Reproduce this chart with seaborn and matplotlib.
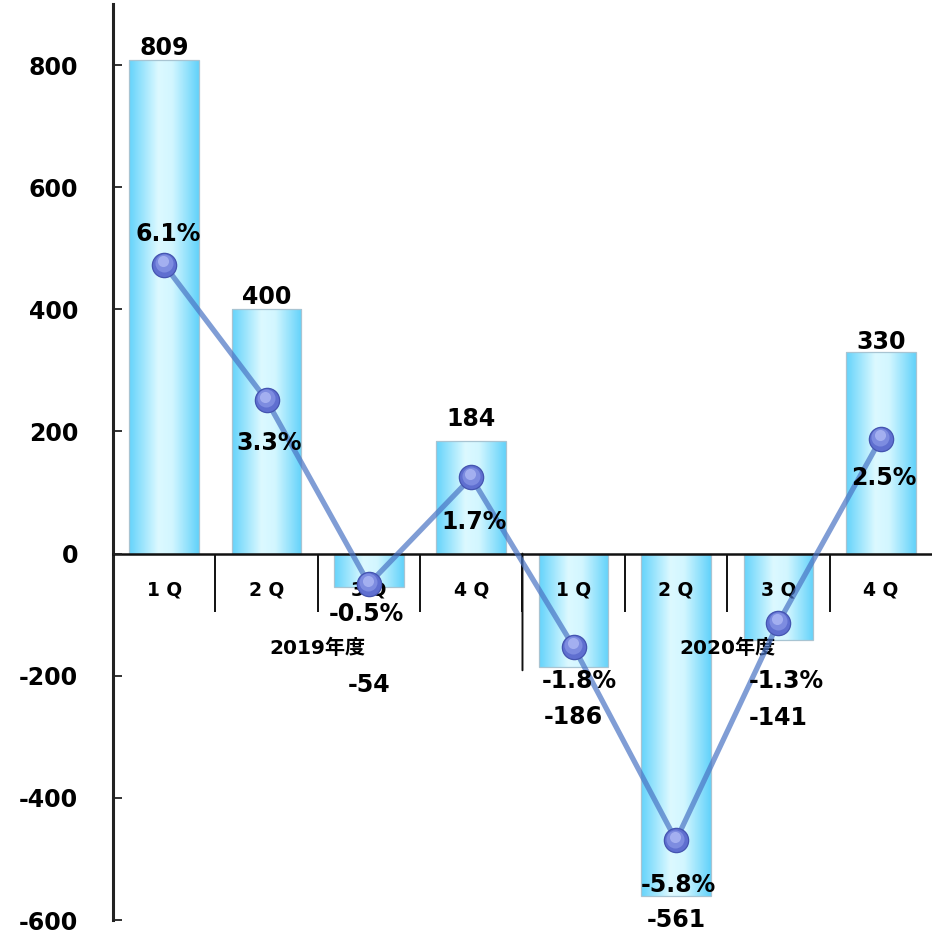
import numpy as np
import pandas as pd
import matplotlib
matplotlib.use("Agg")
import matplotlib.pyplot as plt
import seaborn as sns
from matplotlib.colors import LinearSegmentedColormap
from matplotlib.transforms import offset_copy

# Quarterly amounts and year-on-year growth
periods = ["2019-1Q", "2019-2Q", "2019-3Q", "2019-4Q",
           "2020-1Q", "2020-2Q", "2020-3Q", "2020-4Q"]
quarter_labels = ["1 Q", "2 Q", "3 Q", "4 Q", "1 Q", "2 Q", "3 Q", "4 Q"]
fiscal_years = ["2019年度", "2020年度"]
amounts = [809, 400, -54, 184, -186, -561, -141, 330]
growth_pct = [6.1, 3.3, -0.5, 1.7, -1.8, -5.8, -1.3, 2.5]
y_ticks = [-600, -400, -200, 0, 200, 400, 600, 800]

# label placement (points) relative to bar end / marker
amount_offsets = [(0, 8), (0, 9), (0, -71), (0, 16), (0, -36), (0, -17), (0, -56), (0, 7)]
pct_offsets = [(3, 22), (2, -31), (-2, -22), (2, -32), (4, -25), (2, -32), (6, -42), (2, -28)]

sns.set_theme(style="white")
plt.rcParams["font.family"] = ["DejaVu Sans", "Noto Sans CJK JP"]
plt.rcParams["font.weight"] = "bold"
plt.rcParams["text.color"] = "black"
plt.rcParams["xtick.color"] = "black"
plt.rcParams["ytick.color"] = "black"

fig = plt.figure(figsize=(9.32, 9.33), dpi=100)
ax = fig.add_axes([0.1212, 0.0139, 0.8788, 0.9818])

df = pd.DataFrame({"period": periods, "amount": amounts, "pct": growth_pct})
sns.barplot(data=df, x="period", y="amount", order=periods, width=0.68,
            color="#8fe3fc", edgecolor="#a8c4d2", linewidth=0.9,
            errorbar=None, ax=ax, zorder=2)

# horizontal light-cyan gradient inside each bar
cmap = LinearSegmentedColormap.from_list(
    "barfill", [(0.0, "#64d3fb"), (0.42, "#dcf9ff"), (0.62, "#d2f6ff"), (1.0, "#62d2fa")])
grad = np.linspace(0, 1, 256).reshape(1, -1)
for bar in list(ax.patches):
    x0, y0 = bar.get_x(), bar.get_y()
    w, h = bar.get_width(), bar.get_height()
    img = ax.imshow(grad, cmap=cmap, aspect="auto", interpolation="bicubic",
                    extent=(x0, x0 + w, min(y0, y0 + h), max(y0, y0 + h)), zorder=2.1)
    img.set_clip_path(bar)
    bar.set_facecolor("none")
    bar.set_zorder(2.2)

ax.set_xlim(-0.5, len(periods) - 0.5)
ax.set_ylim(-600, 900)
ax.set_xlabel("")
ax.set_ylabel("")
ax.set_axisbelow(False)

# axes styling
for side in ("top", "right"):
    ax.spines[side].set_visible(False)
ax.spines["bottom"].set_position(("data", 0))
ax.spines["bottom"].set_linewidth(1.8)
ax.spines["bottom"].set_color("#111111")
ax.spines["left"].set_linewidth(2.2)
ax.spines["left"].set_color("#222222")

ax.set_yticks(y_ticks)
ax.set_yticklabels([str(v) for v in y_ticks], fontsize=17, fontweight="bold")
ax.tick_params(axis="y", which="major", direction="in", length=6.5, width=1.3,
               color="#222222", pad=25, left=True)

ax.set_xticks(np.arange(len(periods)))
ax.set_xticklabels(quarter_labels, fontsize=13.5, fontweight="bold")
ax.set_xticks(np.arange(len(periods) - 1) + 0.5, minor=True)
ax.tick_params(axis="x", which="major", length=0, pad=19)
ax.tick_params(axis="x", which="minor", direction="out", length=42, width=1.4,
               color="#111111", bottom=True)

# longer divider between fiscal years
mid = len(periods) / 2 - 0.5
ax.annotate("", xy=(mid, 0), xytext=(0, -84), textcoords="offset points",
            arrowprops=dict(arrowstyle="-", lw=1.4, color="#111111", shrinkA=0, shrinkB=0))

for i, fy in enumerate(fiscal_years):
    center = i * 4 + 1.5
    ax.annotate(fy, xy=(center, 0), xytext=(0, -68), textcoords="offset points",
                ha="center", va="center", fontsize=14.5, fontweight="bold", color="black")

# growth line on a hidden secondary axis
ax2 = ax.twinx()
ax2.set_ylim(-7.45, 11.49)
xs = np.arange(len(periods))
sns.lineplot(x=xs, y=growth_pct, ax=ax2, color="#4a74c4", alpha=0.7,
             linewidth=3.8, zorder=3)
ax2.scatter(xs, growth_pct, s=17.5 ** 2, color="#5f6fd0", edgecolors="#4454b0",
            linewidths=0.9, zorder=4)
ax2.scatter(xs, growth_pct, s=13 ** 2, color="#7d8ce0", linewidths=0, zorder=5,
            transform=offset_copy(ax2.transData, fig=fig, x=-0.4, y=1.2, units="points"))
ax2.scatter(xs, growth_pct, s=8 ** 2, color="#a3aff0", linewidths=0, zorder=6,
            transform=offset_copy(ax2.transData, fig=fig, x=-0.8, y=2.4, units="points"))
ax2.set_xlim(-0.5, len(periods) - 0.5)
ax2.set_axis_off()

# value labels
for i, (v, off) in enumerate(zip(amounts, amount_offsets)):
    ax2.annotate(str(v), xy=(i, v), xycoords=ax.transData, xytext=off,
                 textcoords="offset points", ha="center", va="center",
                 fontsize=17, fontweight="bold", color="black", zorder=10)

for i, (p, off) in enumerate(zip(growth_pct, pct_offsets)):
    ax2.annotate(f"{p:.1f}%", xy=(i, p), xytext=off, textcoords="offset points",
                 ha="center", va="center", fontsize=17, fontweight="bold",
                 color="black", zorder=10)

fig.savefig("out.png", dpi=100)
